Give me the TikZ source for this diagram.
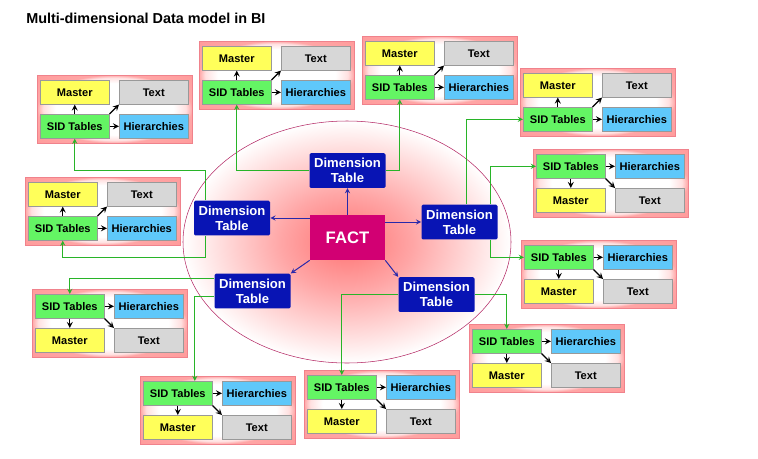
\documentclass[tikz,border=0pt]{standalone}
\usepackage{fontspec}
\setmainfont{Liberation Sans}
\usetikzlibrary{calc,arrows}
\definecolor{cmaster}{RGB}{255,255,90}
\definecolor{ctext}{RGB}{215,215,215}
\definecolor{csid}{RGB}{100,245,100}
\definecolor{chier}{RGB}{95,200,250}
\definecolor{dimblue}{RGB}{8,20,180}
\definecolor{factpink}{RGB}{210,0,115}
\definecolor{boxline}{RGB}{240,130,140}
\definecolor{ringline}{RGB}{180,40,100}
\definecolor{linkgreen}{RGB}{40,180,40}
\definecolor{rayblue}{RGB}{40,40,170}
\pgfdeclareradialshading{factglow}{\pgfpoint{0bp}{0bp}}{color(0bp)=(red!55!white); color(10bp)=(red!35!white); color(25bp)=(white); color(50bp)=(white)}
\pgfdeclareradialshading{boxglow}{\pgfpoint{0bp}{0bp}}{color(0bp)=(white); color(19bp)=(white); color(23bp)=(red!12!white); color(25bp)=(red!35!white); color(50bp)=(red!45!white)}
\begin{document}
\begin{tikzpicture}[x=0.75pt,y=-0.75pt,
	grp/.style={draw=boxline,shade,shading=boxglow},
	cell/.style={draw=black!40,anchor=north west,inner sep=0pt,minimum width=51.75pt,minimum height=18pt,font=\bfseries\fontsize{8.3}{10}\selectfont},
	dim/.style={fill=dimblue,text=white,rounded corners=1pt,align=center,minimum width=57pt,minimum height=26pt,inner sep=0pt,font=\bfseries\fontsize{9.8}{11.5}\selectfont},
	inarrow/.style={-stealth,line width=1pt},
	link/.style={-stealth,draw=linkgreen,line width=.75pt},
	ray/.style={-stealth,draw=rayblue,line width=.75pt}]
			\useasboundingbox (0,0) rectangle (758,458);
			\node[anchor=base west,inner sep=0pt,font=\bfseries\fontsize{10.8}{12}\selectfont] (title) at (26,23) {Multi-dimensional Data model in BI};
			\draw[draw=ringline,shade,shading=factglow] (347,242) ellipse [x radius=123pt,y radius=90.75pt];
			% Master on top
			\foreach \x/\y/\n in {37/75/1,199/41/2,362/36/3,520/68/4,25/177/5}{
				\draw[grp] (\x,\y) rectangle ++(155,68);
				\node[cell,fill=cmaster] (mas\n) at (\x+3,\y+5) {Master};
				\node[cell,fill=ctext] (txt\n) at (\x+82,\y+5) {Text};
				\node[cell,fill=csid] (sid\n) at (\x+3,\y+39) {SID Tables};
				\node[cell,fill=chier] (hie\n) at (\x+82,\y+39) {Hierarchies};
				\draw[inarrow] (sid\n) -- (mas\n);
				\draw[inarrow] (sid\n) -- (hie\n);
				\draw[inarrow] (sid\n.north east) -- (txt\n.south west);}
			% SID Tables on top
			\foreach \x/\y/\n in {533/149/6,521/240/7,32/289/8,469/324/9,140/376/10,304/370/11}{
				\draw[grp] (\x,\y) rectangle ++(155,68);
				\node[cell,fill=csid] (sid\n) at (\x+3,\y+5) {SID Tables};
				\node[cell,fill=chier] (hie\n) at (\x+82,\y+5) {Hierarchies};
				\node[cell,fill=cmaster] (mas\n) at (\x+3,\y+39) {Master};
				\node[cell,fill=ctext] (txt\n) at (\x+82,\y+39) {Text};
				\draw[inarrow] (sid\n) -- (mas\n);
				\draw[inarrow] (sid\n) -- (hie\n);
				\draw[inarrow] (sid\n.south east) -- (txt\n.north west);}
			\foreach \x/\y/\n in {347.5/170.5/T,232/218/L,459.5/222/R,252.5/291/BL,436.5/294.5/BR}\node[dim] (dim\n) at (\x,\y) {Dimension\\Table};
			\node[fill=factpink,text=white,minimum width=56.25pt,minimum height=33.75pt,font=\bfseries\fontsize{12.5}{14}\selectfont] (fact) at (347.5,237.5) {FACT};
			\draw[ray] (fact.north) -- (dimT.south);
			\draw[ray] (fact.west |- dimL.east) -- (dimL.east);
			\draw[ray] (fact.east |- dimR.west) -- (dimR.west);
			\draw[ray] (fact.south west) -- (dimBL.north east);
			\draw[ray] (fact.south east) -- (dimBR.north west);
			\draw[link] ($(dimL.north west)+(12,0)$) -- ++(0,-30) -| (sid1.south);
			\draw[link] ($(dimL.south west)+(12,0)$) -- ++(0,22) -| (sid5.south);
			\draw[link] (dimT.west) -| (sid2.south);
			\draw[link] (dimT.east) -| (sid3.south);
			\draw[link] ($(dimR.north west)+(45,0)$) |- (sid4.west);
			\draw[link] ($(dimR.north east)+(-7,0)$) |- (sid6.west);
			\draw[link] ($(dimR.south east)+(-7,0)$) |- (sid7.west);
			\draw[link] ($(dimBL.north west)+(0,5)$) -| (sid8.north);
			\draw[link] ($(dimBL.north west)+(0,23)$) -| ($(sid10.north)+(17,0)$);
			\draw[link] (dimBR.west) -| (sid11.north);
			\draw[link] (dimBR.east) -| (sid9.north);
		\end{tikzpicture}
\end{document}
